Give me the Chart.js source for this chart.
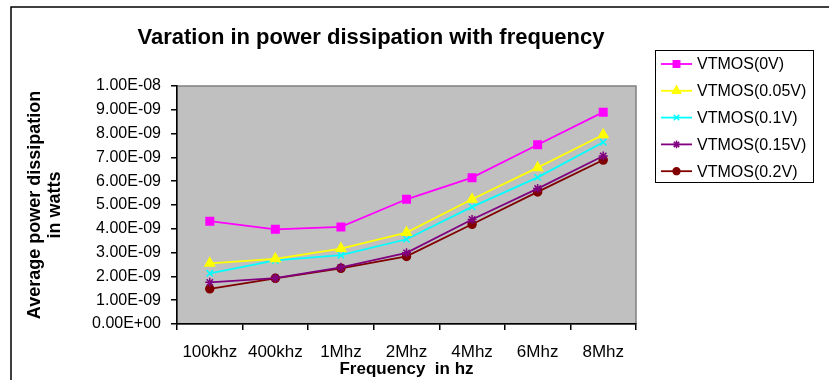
<!DOCTYPE html>
<html>
<head>
<meta charset="utf-8">
<script src="https://cdn.jsdelivr.net/npm/chart.js@4"></script>
<style>
  html, body { margin: 0; padding: 0; background: #fff; }
  canvas { display: block; }
</style>
</head>
<body>
<canvas id="chart" width="829" height="380"></canvas>
<script>
// data
const categories = ['100khz', '400khz', '1Mhz', '2Mhz', '4Mhz', '6Mhz', '8Mhz'];
const seriesNames = ['VTMOS(0V)', 'VTMOS(0.05V)', 'VTMOS(0.1V)', 'VTMOS(0.15V)', 'VTMOS(0.2V)'];
const vt0 = [4.32e-9, 3.98e-9, 4.08e-9, 5.24e-9, 6.15e-9, 7.53e-9, 8.90e-9];
const vt005 = [2.55e-9, 2.74e-9, 3.17e-9, 3.84e-9, 5.24e-9, 6.57e-9, 7.95e-9];
const vt01 = [2.13e-9, 2.67e-9, 2.89e-9, 3.56e-9, 4.92e-9, 6.16e-9, 7.64e-9];
const vt015 = [1.75e-9, 1.93e-9, 2.38e-9, 2.99e-9, 4.39e-9, 5.69e-9, 7.06e-9];
const vt02 = [1.48e-9, 1.92e-9, 2.34e-9, 2.84e-9, 4.19e-9, 5.55e-9, 6.89e-9];
const yMin = 0;
const yMax = 1e-8;
const yStep = 1e-9;

const titleText = 'Varation in power dissipation with frequency';
const yTitle = ['Average power dissipation', 'in watts'];
const xTitle = 'Frequency  in hz';

// excel style 1.00E-09
function sci(v) {
  if (Math.abs(v) < 1e-20) v = 0;
  let s = v.toExponential(2).toUpperCase();
  return s.replace(/E([+-])(\d+)$/, (m, sign, d) => 'E' + sign + (d.length < 2 ? '0' + d : d));
}

const styles = [
  { color: '#FF00FF', point: 'rect', r: 5.3 },
  { color: '#FFFF00', point: 'triangle', r: 5.5 },
  { color: '#00FFFF', point: 'crossRot', r: 4.5 },
  { color: '#800080', point: 'star', r: 4.5 },
  { color: '#800000', point: 'circle', r: 4 }
];
const seriesData = [vt0, vt005, vt01, vt015, vt02];

const datasets = seriesNames.map((name, i) => ({
  label: name,
  data: seriesData[i],
  borderColor: styles[i].color,
  backgroundColor: styles[i].color,
  pointBackgroundColor: styles[i].color,
  pointBorderColor: styles[i].color,
  pointStyle: styles[i].point,
  pointRadius: styles[i].r,
  pointBorderWidth: 1.5,
  borderWidth: 1.8,
  tension: 0
}));

const framePlugin = {
  id: 'frame',
  beforeDraw(chart) {
    const { ctx, chartArea: a } = chart;
    ctx.save();
    ctx.fillStyle = '#fff';
    ctx.fillRect(0, 0, chart.width, chart.height);
    // outer chart border (cropped on the right and bottom)
    ctx.strokeStyle = '#000';
    ctx.lineWidth = 1.5;
    ctx.beginPath();
    ctx.moveTo(11, chart.height + 2);
    ctx.lineTo(11, 7);
    ctx.lineTo(chart.width + 2, 7);
    ctx.stroke();
    // grey plot area
    ctx.fillStyle = '#C0C0C0';
    ctx.fillRect(a.left, a.top, a.right - a.left, a.bottom - a.top);
    ctx.strokeStyle = '#808080';
    ctx.lineWidth = 1.5;
    ctx.strokeRect(a.left, a.top, a.right - a.left, a.bottom - a.top);
    ctx.restore();
  },
  afterDraw(chart) {
    const { ctx } = chart;
    ctx.save();
    // title
    ctx.fillStyle = '#000';
    ctx.font = 'bold 22px "Liberation Sans", Arial, sans-serif';
    ctx.textAlign = 'center';
    ctx.textBaseline = 'middle';
    ctx.fillText(titleText, 371, 38);

    // legend box
    const bx = 655, by = 50, bw = 158, bh = 132;
    ctx.strokeStyle = '#000';
    ctx.lineWidth = 1;
    ctx.strokeRect(bx + 0.5, by + 0.5, bw, bh);
    ctx.font = '16px "Liberation Sans", Arial, sans-serif';
    ctx.textAlign = 'left';
    chart.data.datasets.forEach((ds, i) => {
      const y = 64 + i * 26.8;
      ctx.strokeStyle = ds.borderColor;
      ctx.lineWidth = 1.8;
      ctx.beginPath();
      ctx.moveTo(661, y);
      ctx.lineTo(692, y);
      ctx.stroke();
      ctx.fillStyle = ds.pointBackgroundColor;
      ctx.strokeStyle = ds.pointBorderColor;
      ctx.lineWidth = 1.5;
      if (Chart.helpers && Chart.helpers.drawPoint) {
        Chart.helpers.drawPoint(ctx, { pointStyle: ds.pointStyle, radius: ds.pointRadius * 0.85, rotation: 0, borderWidth: 1.5 }, 676.5, y);
      }
      ctx.fillStyle = '#000';
      ctx.fillText(ds.label, 697, y + 1);
    });
    ctx.restore();
  }
};

new Chart(document.getElementById('chart'), {
  type: 'line',
  data: { labels: categories, datasets: datasets },
  options: {
    responsive: false,
    devicePixelRatio: 1,
    animation: false,
    layout: { padding: { left: 0, right: 193, top: 86, bottom: 0 } },
    plugins: {
      legend: { display: false },
      title: { display: false },
      tooltip: { enabled: false }
    },
    scales: {
      x: {
        offset: true,
        grid: { offset: true, drawOnChartArea: false, drawTicks: true, tickLength: 6, color: '#000', lineWidth: 1.5 },
        border: { display: true, color: '#000', width: 1.5 },
        ticks: {
          color: '#000', padding: 12, autoSkip: false, maxRotation: 0,
          font: { family: '"Liberation Sans", Arial, sans-serif', size: 17 }
        },
        title: {
          display: true, text: xTitle, color: '#000',
          font: { family: '"Liberation Sans", Arial, sans-serif', size: 17, weight: 'bold', lineHeight: 1.2 },
          padding: { top: 0, bottom: 0 }
        },
        afterFit(s) { s.height = 56; }
      },
      y: {
        min: yMin,
        max: yMax,
        grid: { drawOnChartArea: false, drawTicks: true, tickLength: 6, color: '#000', lineWidth: 1.5 },
        border: { display: true, color: '#000', width: 1.5 },
        ticks: {
          stepSize: yStep, color: '#000', padding: 10,
          font: { family: '"Liberation Sans", Arial, sans-serif', size: 16 },
          callback: (v) => sci(v)
        },
        title: {
          display: true, text: yTitle, color: '#000',
          font: { family: '"Liberation Sans", Arial, sans-serif', size: 18, weight: 'bold', lineHeight: 1.1 },
          padding: { top: 25, bottom: 0 }
        },
        afterFit(s) { s.width = 177; }
      }
    }
  },
  plugins: [framePlugin]
});
</script>
</body>
</html>
